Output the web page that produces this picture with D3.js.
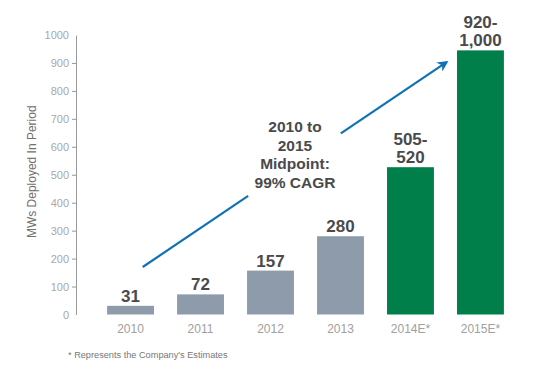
<!DOCTYPE html>
<html>
<head>
<meta charset="utf-8">
<script src="https://cdn.jsdelivr.net/npm/d3@7"></script>
<style>
  body { margin: 0; background: #fff; }
  svg { display: block; font-family: "Liberation Sans", Arial, Helvetica, sans-serif; }
</style>
</head>
<body>
<div id="chart"></div>
<script>
// data
const years = ["2010", "2011", "2012", "2013", "2014E*", "2015E*"];
const mws = [31, 72, 157, 280, 527, 945];           // bar heights
const barLabels = [["31"], ["72"], ["157"], ["280"], ["505-", "520"], ["920-", "1,000"]];
const estimate = [false, false, false, false, true, true];
const yTicks = [0, 100, 200, 300, 400, 500, 600, 700, 800, 900, 1000];
const noteLines = ["2010 to", "2015", "Midpoint:", "99% CAGR"];
// arrow: [category, offset inside band (0..1), value]
const arrowFrom = ["2010", 0.76, 170];
const arrowTo = ["2014E*", 1.27, 903];

const width = 539, height = 374;
const margin = {top: 35, bottom: 59, left: 76};

const svg = d3.select("#chart").append("svg")
    .attr("width", width)
    .attr("height", height);

const x = d3.scaleBand()
    .domain(years)
    .range([84, 527])
    .paddingInner(0.33)
    .paddingOuter(0.33);

const y = d3.scaleLinear()
    .domain([0, 1000])
    .range([height - margin.bottom - 0.5, margin.top]);

// y axis
const yAxis = svg.append("g")
    .attr("transform", "translate(" + margin.left + ",0)")
    .call(d3.axisLeft(y).tickValues(yTicks).tickFormat(d3.format("d"))
        .tickSize(4).tickPadding(3).tickSizeOuter(0));
yAxis.select(".domain").attr("stroke", "#999").attr("stroke-width", 1);
yAxis.selectAll(".tick line")
    .attr("stroke", "#999")
    .attr("x2", -4)
    .attr("x1", 1)
    .attr("opacity", d => (d === 0 || d === 1000) ? 0 : 1);
yAxis.selectAll(".tick text")
    .attr("fill", "#a8a8a8")
    .style("font-size", "11px");

// y title
svg.append("text")
    .attr("transform", "translate(36," + ((y(0) + y(1000)) / 2 - 3) + ") rotate(-90)")
    .attr("text-anchor", "middle")
    .attr("fill", "#707070")
    .style("font-size", "12px")
    .text("MWs Deployed In Period");

// bars
svg.selectAll("rect.bar")
    .data(years)
    .enter()
    .append("rect")
    .attr("class", "bar")
    .attr("x", d => x(d))
    .attr("width", x.bandwidth())
    .attr("y", (d, i) => y(mws[i]))
    .attr("height", (d, i) => y(0) - y(mws[i]))
    .attr("fill", (d, i) => estimate[i] ? "#007f4b" : "#8e9bab");

// bar value labels
const lineH = 18;
years.forEach((yr, i) => {
    const lines = barLabels[i];
    const t = svg.append("text")
        .attr("x", x(yr) + x.bandwidth() / 2)
        .attr("text-anchor", "middle")
        .attr("fill", "#4a4a4c")
        .style("font-size", "17px")
        .style("font-weight", "bold");
    lines.forEach((l, k) => {
        t.append("tspan")
            .attr("x", x(yr) + x.bandwidth() / 2)
            .attr("y", y(mws[i]) - 4 - (lines.length - 1 - k) * lineH)
            .text(l);
    });
});

// x labels
svg.selectAll("text.xlab")
    .data(years)
    .enter()
    .append("text")
    .attr("class", "xlab")
    .attr("x", d => x(d) + x.bandwidth() / 2)
    .attr("y", 333)
    .attr("text-anchor", "middle")
    .attr("fill", "#a0a0a0")
    .style("font-size", "12px")
    .text(d => d);

// growth arrow, with a gap for the note
const ax = a => x(a[0]) + a[1] * x.bandwidth();
const x1 = ax(arrowFrom), y1 = y(arrowFrom[2]);
const x2 = ax(arrowTo), y2 = y(arrowTo[2]);
const at = t => [x1 + (x2 - x1) * t, y1 + (y2 - y1) * t];

svg.append("defs").append("marker")
    .attr("id", "head")
    .attr("viewBox", "0 0 10 10")
    .attr("refX", 8)
    .attr("refY", 5)
    .attr("markerWidth", 5)
    .attr("markerHeight", 5)
    .attr("orient", "auto")
    .append("path")
    .attr("d", "M0,0 L10,5 L0,10 L3,5 Z")
    .attr("fill", "#0f72b5");

const gapA = at(0.347), gapB = at(0.652);
svg.append("line")
    .attr("x1", x1).attr("y1", y1)
    .attr("x2", gapA[0]).attr("y2", gapA[1])
    .attr("stroke", "#0f72b5").attr("stroke-width", 2.2);
svg.append("line")
    .attr("x1", gapB[0]).attr("y1", gapB[1])
    .attr("x2", x2).attr("y2", y2)
    .attr("stroke", "#0f72b5").attr("stroke-width", 2.2)
    .attr("marker-end", "url(#head)");

// note text
const note = svg.append("text")
    .attr("text-anchor", "middle")
    .attr("fill", "#4a4a4c")
    .style("font-size", "15.5px")
    .style("font-weight", "bold");
noteLines.forEach((l, k) => {
    note.append("tspan")
        .attr("x", 295)
        .attr("y", 132 + k * 18.7)
        .text(l);
});

// footnote
svg.append("text")
    .attr("x", 68)
    .attr("y", 358)
    .attr("fill", "#777")
    .style("font-size", "9.2px")
    .text("* Represents the Company's Estimates");
</script>
</body>
</html>
